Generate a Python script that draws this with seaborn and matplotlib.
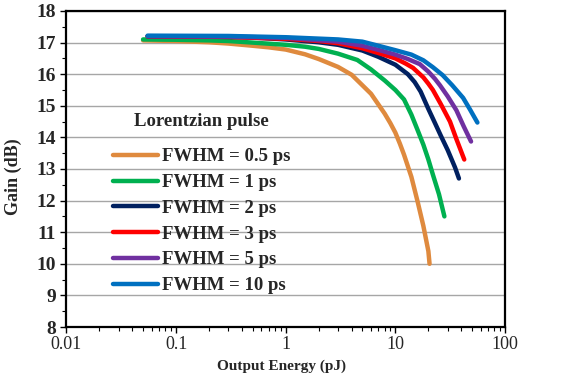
import numpy as np
import pandas as pd
import matplotlib
matplotlib.use("Agg")
import matplotlib.pyplot as plt
import seaborn as sns
from matplotlib.ticker import LogLocator, MultipleLocator, FixedLocator, NullFormatter

# ---- data ----
labels = ["FWHM = 0.5 ps", "FWHM = 1 ps", "FWHM = 2 ps",
          "FWHM = 3 ps", "FWHM = 5 ps", "FWHM = 10 ps"]
colors = ["#DF8A3E", "#00B050", "#002060", "#FF0000", "#7030A0", "#0070C0"]

e_05 = [0.05, 0.1, 0.2, 0.3, 0.5, 0.7, 1, 1.5, 2, 3, 4, 5, 6, 8, 9, 10, 11, 12, 14, 16, 18, 20, 20.5]
g_05 = [17.07, 17.05, 17.01, 16.97, 16.9, 16.85, 16.78, 16.63, 16.48, 16.23, 15.98, 15.65, 15.38,
        14.75, 14.45, 14.15, 13.8, 13.45, 12.75, 11.95, 11.2, 10.4, 10.0]

e_1 = [0.05, 0.1, 0.2, 0.3, 0.5, 1, 1.5, 2, 3, 4.5, 6, 8, 10, 12, 14, 16, 18, 20, 22, 25, 28]
g_1 = [17.1, 17.09, 17.07, 17.05, 17.0, 16.93, 16.87, 16.8, 16.65, 16.45, 16.15, 15.8, 15.5,
       15.2, 14.72, 14.22, 13.77, 13.3, 12.82, 12.2, 11.5]

e_2 = [0.055, 0.1, 0.3, 0.5, 1, 2, 3, 5, 7, 10, 13, 15, 17, 20, 23, 26, 30, 35, 38]
g_2 = [17.2, 17.2, 17.18, 17.16, 17.1, 17.01, 16.93, 16.75, 16.55, 16.3, 16.0, 15.75, 15.45,
       14.9, 14.45, 14.05, 13.6, 13.05, 12.7]

e_3 = [0.055, 0.3, 1, 2, 3, 5, 7, 10, 12.5, 14.5, 18, 20, 22, 26, 31.5, 36, 42.5]
g_3 = [17.2, 17.18, 17.12, 17.05, 16.98, 16.82, 16.67, 16.5, 16.33, 16.2, 15.9, 15.7, 15.5,
       15.05, 14.5, 13.95, 13.3]

e_5 = [0.055, 0.3, 1, 3, 5, 7, 10, 13, 16.7, 20, 23, 25.5, 30, 36, 42, 49]
g_5 = [17.2, 17.19, 17.15, 17.03, 16.9, 16.77, 16.62, 16.48, 16.32, 16.08, 15.85, 15.65, 15.3,
       14.86, 14.35, 13.87]

e_10 = [0.055, 0.3, 1, 3, 5, 7, 10, 14, 18, 22, 27, 33, 41.5, 48, 56]
g_10 = [17.22, 17.21, 17.17, 17.1, 17.03, 16.9, 16.76, 16.62, 16.44, 16.22, 15.97, 15.65, 15.25,
        14.88, 14.47]

x_ticks = [0.01, 0.1, 1, 10, 100]
x_ticklabels = ["0.01", "0.1", "1", "10", "100"]
y_ticks = list(range(8, 19))

series_e = [e_05, e_1, e_2, e_3, e_5, e_10]
series_g = [g_05, g_1, g_2, g_3, g_5, g_10]

df = pd.concat([pd.DataFrame({"energy": e, "gain": g, "pulse": lab})
                for e, g, lab in zip(series_e, series_g, labels)], ignore_index=True)

# ---- plot ----
sns.set_theme(style="white")
plt.rcParams["font.family"] = ["Liberation Serif", "DejaVu Serif"]

fig = plt.figure(figsize=(5.63, 3.74), dpi=100)
ax_bottom_px = 47.0
ax_h_px = 363.0 - ax_bottom_px
ax = fig.add_axes([0.118, ax_bottom_px / 374, 0.779, ax_h_px / 374])

sns.lineplot(data=df, x="energy", y="gain", hue="pulse", hue_order=labels,
             palette=dict(zip(labels, colors)), estimator=None, sort=True,
             linewidth=3.2, ax=ax, solid_capstyle="round", solid_joinstyle="round")

ax.set_xscale("log")
ax.set_xlim(0.01, 100)
ax.set_ylim(8, 18)
ax.xaxis.set_major_locator(FixedLocator(x_ticks))
ax.set_xticklabels(x_ticklabels)
ax.xaxis.set_minor_locator(LogLocator(base=10, subs=np.arange(2, 10), numticks=20))
ax.xaxis.set_minor_formatter(NullFormatter())
ax.yaxis.set_major_locator(FixedLocator(y_ticks))
ax.yaxis.set_minor_locator(MultipleLocator(0.5))

ax.grid(True, axis="y", which="major", color="#A6A6A6", linewidth=1.0)
ax.grid(False, axis="x")
ax.set_axisbelow(True)

for s in ax.spines.values():
    s.set_visible(True)
    s.set_color("black")
    s.set_linewidth(1.6)

ax.tick_params(axis="both", which="major", direction="out", length=4.3, width=1.0,
               color="black", bottom=True, left=True)
ax.tick_params(axis="both", which="minor", direction="out", length=2.6, width=0.8,
               color="black", bottom=True, left=True)
ax.tick_params(axis="y", labelsize=14, pad=3)
ax.tick_params(axis="x", labelsize=13, pad=2)
for t in ax.get_yticklabels():
    t.set_fontweight("bold")

ax.set_ylabel("Gain (dB)", fontsize=13, fontweight="bold")
ax.yaxis.label.set_va("center")
ax.yaxis.set_label_coords((13 - 66.5) / 438.6, (374 - 177 - ax_bottom_px) / ax_h_px)

ax.set_xlabel("Output Energy (pJ)", fontsize=11, fontweight="bold")
ax.xaxis.label.set_va("bottom")
ax.xaxis.set_label_coords(0.49, (1 - ax_bottom_px) / ax_h_px)

leg = ax.legend(title="Lorentzian pulse", loc="upper left",
                bbox_to_anchor=(0.088, 0.70), frameon=False,
                prop={"family": "Liberation Serif", "weight": "bold", "size": 13.5},
                title_fontproperties={"family": "Liberation Serif", "weight": "bold", "size": 13.5},
                handlelength=2.4, handletextpad=0.25, labelspacing=0.46,
                borderaxespad=0.0)
leg._legend_box.sep = 13
for line in leg.get_lines():
    line.set_linewidth(3.2)
    line.set_solid_capstyle("round")

fig.savefig("out.png", dpi=100)
